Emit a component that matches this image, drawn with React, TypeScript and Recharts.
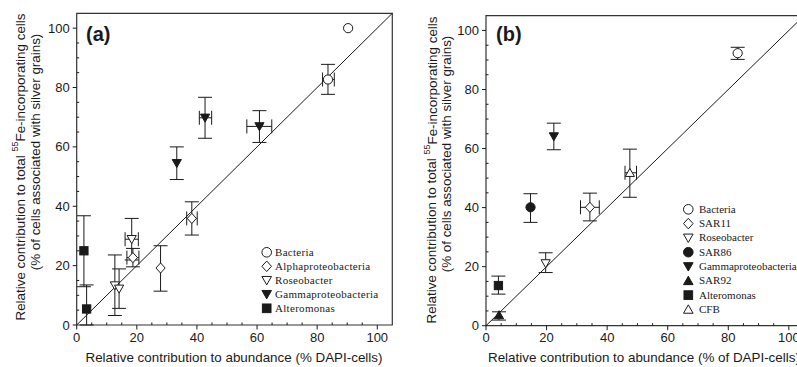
import React from "react";
import {
  ScatterChart,
  Scatter,
  XAxis,
  YAxis,
  ErrorBar,
  ReferenceLine,
  ReferenceArea,
} from "recharts";

// axis ticks (minor every 5, labels every 20)
const axisTicks = [0, 5, 10, 15, 20, 25, 30, 35, 40, 45, 50, 55, 60, 65, 70, 75, 80, 85, 90, 95, 100];
const labelledTicks = [0, 20, 40, 60, 80, 100];

// panel (a) — ex / ey are [minus, plus] error deltas
const bacteriaA = [
  { x: 90.3, y: 100 },
  { x: 83.6, y: 82.7, ex: [1.8, 2.1], ey: [5, 5.1] },
];
const alphaA = [
  { x: 38.3, y: 35.9, ex: [1.7, 1.8], ey: [5.6, 5.6] },
  { x: 18.7, y: 22.7, ex: [2, 2], ey: [3.1, 3.1] },
  { x: 27.9, y: 19.2, ey: [7.8, 7.5] },
];
const roseoA = [
  { x: 18.3, y: 28.9, ex: [2.2, 2.2], ey: [7, 7] },
  { x: 12.7, y: 13.3, ey: [10.1, 10.3] },
  { x: 14.1, y: 12.2, ey: [6.6, 6.7] },
];
const gammaA = [
  { x: 33.3, y: 54.5, ey: [5.5, 5.5] },
  { x: 42.7, y: 69.8, ex: [1.9, 2.2], ey: [6.9, 6.9] },
  { x: 60.8, y: 66.9, ex: [4.2, 4.1], ey: [5.4, 5.3] },
];
const alteroA = [
  { x: 2.4, y: 25, ey: [12.1, 11.8] },
  { x: 3.3, y: 5.4, ey: [5.4, 8.1] },
];

// panel (b)
const bacteriaB = [{ x: 83.1, y: 92.3, ey: [2.1, 2.0] }];
const sar11B = [{ x: 34.3, y: 40.1, ex: [3.1, 3.1], ey: [4.6, 4.8] }];
const roseoB = [{ x: 19.7, y: 21.1, ey: [3.1, 3.6] }];
const sar86B = [{ x: 14.7, y: 40.1, ey: [5.1, 4.6] }];
const gammaB = [{ x: 22.4, y: 64.1, ey: [4.5, 4.5] }];
const sar92B = [{ x: 4.3, y: 3.6, ey: [1.7, 1.1] }];
const alteroB = [{ x: 4.1, y: 13.6, ey: [2.9, 3.2] }];
const cfbB = [{ x: 47.5, y: 51.8, ex: [1.6, 2.2], ey: [8.3, 8] }];

const legendA = [
  { kind: "circleOpen", name: "Bacteria" },
  { kind: "diamondOpen", name: "Alphaproteobacteria" },
  { kind: "downOpen", name: "Roseobacter" },
  { kind: "downFilled", name: "Gammaproteobacteria" },
  { kind: "squareFilled", name: "Alteromonas" },
];
const legendB = [
  { kind: "circleOpen", name: "Bacteria" },
  { kind: "diamondOpen", name: "SAR11" },
  { kind: "downOpen", name: "Roseobacter" },
  { kind: "circleFilled", name: "SAR86" },
  { kind: "downFilled", name: "Gammaproteobacteria" },
  { kind: "upFilled", name: "SAR92" },
  { kind: "squareFilled", name: "Alteromonas" },
  { kind: "upOpen", name: "CFB" },
];

const INK = "#1a1a1a";
const SANS = "'Liberation Sans', Arial, sans-serif";
const SERIF = "'Liberation Serif', 'Times New Roman', serif";

const Marker = ({ kind, cx, cy, s = 4.6 }: any) => {
  if (cx == null || cy == null) return null;
  const open = kind.endsWith("Open");
  const fill = open ? "#fff" : INK;
  const common = { fill, stroke: INK, strokeWidth: 1 };
  if (kind.startsWith("circle")) return <circle cx={cx} cy={cy} r={s} {...common} />;
  if (kind.startsWith("square"))
    return <rect x={cx - s * 0.9} y={cy - s * 0.9} width={s * 1.8} height={s * 1.8} {...common} />;
  let pts = "";
  if (kind.startsWith("diamond"))
    pts = `${cx},${cy - s * 1.1} ${cx + s},${cy} ${cx},${cy + s * 1.1} ${cx - s},${cy}`;
  else if (kind.startsWith("down"))
    pts = `${cx - s},${cy - s * 0.8} ${cx + s},${cy - s * 0.8} ${cx},${cy + s * 0.95}`;
  else pts = `${cx - s},${cy + s * 0.8} ${cx + s},${cy + s * 0.8} ${cx},${cy - s * 0.95}`;
  return <polygon points={pts} {...common} />;
};

const shapeOf = (kind: string) => (p: any) => <Marker kind={kind} cx={p.cx} cy={p.cy} />;

const makeYTick = (axisX: number) => (p: any) => {
  const v = p.payload.value;
  const major = v % 20 === 0;
  return (
    <g>
      <line
        x1={major ? axisX - 4 : axisX}
        x2={major ? axisX : axisX + 2.5}
        y1={p.y}
        y2={p.y}
        stroke={INK}
      />
      {major && (
        <text x={axisX - 7} y={p.y} dy="0.35em" textAnchor="end" fontSize={13} fontFamily={SANS} fill={INK}>
          {v}
        </text>
      )}
    </g>
  );
};

const makeXTick = (axisY: number) => (p: any) => {
  const v = p.payload.value;
  const major = v % 20 === 0;
  return (
    <g>
      <line
        x1={p.x}
        x2={p.x}
        y1={major ? axisY : axisY - 2.5}
        y2={major ? axisY + 4.5 : axisY}
        stroke={INK}
      />
      {major && (
        <text x={p.x} y={axisY + 16.5} textAnchor="middle" fontSize={13} fontFamily={SANS} fill={INK}>
          {v}
        </text>
      )}
    </g>
  );
};

const series = (data: any[], kind: string, key: string) => (
  <Scatter key={key} data={data} shape={shapeOf(kind)} isAnimationActive={false}>
    <ErrorBar dataKey="ey" direction="y" width={7} stroke={INK} strokeWidth={1} />
    <ErrorBar dataKey="ex" direction="x" width={7} stroke={INK} strokeWidth={1} />
  </Scatter>
);

const Panel = ({ width, margin, axisX, axisY, children }: any) => (
  <ScatterChart width={width} height={367} margin={margin}>
    <XAxis
      type="number"
      dataKey="x"
      domain={[0, 105]}
      allowDataOverflow
      ticks={axisTicks}
      interval={0}
      axisLine={false}
      tickLine={false}
      height={30}
      tick={makeXTick(axisY)}
    />
    <YAxis
      type="number"
      dataKey="y"
      domain={[0, 105]}
      allowDataOverflow
      ticks={axisTicks}
      interval={0}
      axisLine={false}
      tickLine={false}
      width={40}
      tick={makeYTick(axisX)}
    />
    <ReferenceArea x1={0} x2={105} y1={0} y2={105} fill="none" stroke="#333" strokeWidth={1.2} />
    <ReferenceLine
      segment={[
        { x: 0, y: 0 },
        { x: 105, y: 105 },
      ]}
      stroke={INK}
      strokeWidth={1}
    />
    {children}
  </ScatterChart>
);

const Legend = ({ items, x, y0, step, textX, spacing }: any) => (
  <g>
    {items.map((it: any, i: number) => (
      <g key={it.name}>
        <Marker kind={it.kind} cx={x} cy={y0 + i * step} s={4.8} />
        <text
          x={textX}
          y={y0 + i * step}
          dy="0.32em"
          fontSize={11}
          fontFamily={SERIF}
          letterSpacing={spacing}
          fill={INK}
        >
          {it.name}
        </text>
      </g>
    ))}
  </g>
);

const YTitle = ({ x1, c1, x2, c2 }: any) => (
  <g fontFamily={SANS} fontSize={13.4} fill={INK}>
    <text transform={`translate(${x1},${c1}) rotate(-90)`} textAnchor="middle" dominantBaseline="central">
      Relative contribution to total{" "}
      <tspan dy={-5} fontSize={9}>
        55
      </tspan>
      <tspan dy={5}>Fe-incorporating cells</tspan>
    </text>
    <text transform={`translate(${x2},${c2}) rotate(-90)`} textAnchor="middle" dominantBaseline="central">
      (% of cells associated with silver grains)
    </text>
  </g>
);

export default function App() {
  return (
    <div
      style={{
        position: "fixed",
        left: 0,
        top: 0,
        width: 797,
        height: 367,
        overflow: "hidden",
        background: "#fff",
      }}
    >
      <div style={{ position: "absolute", left: 0, top: 0 }}>
        <Panel width={400} margin={{ top: 13.3, right: 7.7, left: 36.7, bottom: 12 }} axisX={76.7} axisY={325}>
          {series(bacteriaA, "circleOpen", "bac")}
          {series(alphaA, "diamondOpen", "alpha")}
          {series(roseoA, "downOpen", "roseo")}
          {series(gammaA, "downFilled", "gamma")}
          {series(alteroA, "squareFilled", "altero")}
        </Panel>
      </div>
      <div style={{ position: "absolute", left: 400, top: 0 }}>
        <Panel width={410} margin={{ top: 15.7, right: 6, left: 46, bottom: 11.3 }} axisX={86} axisY={325.7}>
          {series(bacteriaB, "circleOpen", "bac")}
          {series(sar11B, "diamondOpen", "sar11")}
          {series(roseoB, "downOpen", "roseo")}
          {series(sar86B, "circleFilled", "sar86")}
          {series(gammaB, "downFilled", "gamma")}
          {series(sar92B, "upFilled", "sar92")}
          {series(alteroB, "squareFilled", "altero")}
          {series(cfbB, "upOpen", "cfb")}
        </Panel>
      </div>
      <svg
        width={797}
        height={367}
        style={{ position: "absolute", left: 0, top: 0, pointerEvents: "none" }}
      >
        <text x={86} y={41} fontSize={20} fontWeight="bold" fontFamily={SANS} fill={INK}>
          (a)
        </text>
        <text x={496} y={41} fontSize={20} fontWeight="bold" fontFamily={SANS} fill={INK}>
          (b)
        </text>
        <YTitle x1={20} c1={167} x2={35} c2={152} />
        <YTitle x1={431.5} c1={170} x2={446.5} c2={154} />
        <text x={234} y={362} textAnchor="middle" fontSize={13.4} fontFamily={SANS} fill={INK}>
          Relative contribution to abundance (% DAPI-cells)
        </text>
        <text x={488} y={362} fontSize={13.4} fontFamily={SANS} fill={INK}>
          Relative contribution to abundance (% of DAPI-cells)
        </text>
        <Legend items={legendA} x={266.7} y0={252.3} step={14} textX={275} spacing={0.3} />
        <Legend items={legendB} x={688.3} y0={209.3} step={14.3} textX={699} spacing={0} />
      </svg>
    </div>
  );
}
